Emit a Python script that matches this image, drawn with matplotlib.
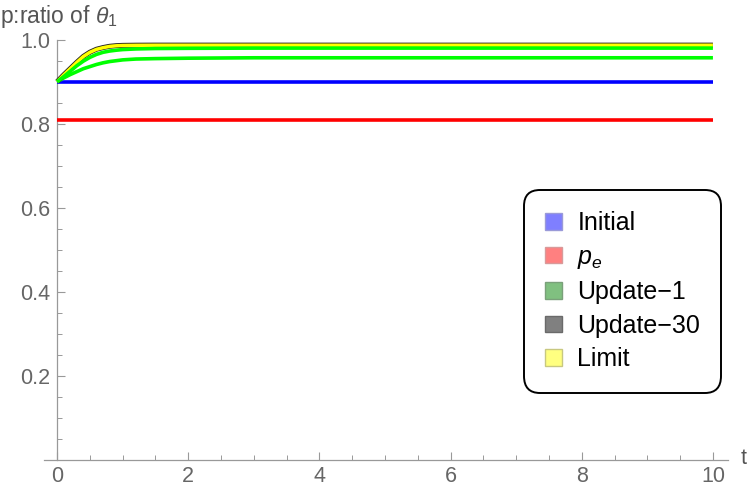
import matplotlib
matplotlib.use("Agg")
import matplotlib.pyplot as plt
from matplotlib.patches import Patch
from matplotlib.ticker import MultipleLocator

plt.rcParams['font.family'] = ['Liberation Sans', 'DejaVu Sans']
plt.rcParams['mathtext.fontset'] = 'custom'
plt.rcParams['mathtext.it'] = 'Liberation Sans:italic'
plt.rcParams['mathtext.rm'] = 'Liberation Sans'

# ---- data ----
t_curve = [0, 0.1, 0.2, 0.3, 0.4, 0.5, 0.6, 0.7, 0.8, 0.9, 1.0, 1.2, 1.5, 2, 3, 4, 6, 10]
p_limit = [0.900, 0.916, 0.931, 0.946, 0.960, 0.970, 0.977, 0.981, 0.984, 0.9855, 0.9862,
           0.9866, 0.9868, 0.9868, 0.9868, 0.9868, 0.9868, 0.9868]
p_update30 = [0.900, 0.9163, 0.9313, 0.9463, 0.9603, 0.9703, 0.9773, 0.9813, 0.9843, 0.9858,
              0.9865, 0.9869, 0.9871, 0.9871, 0.9871, 0.9871, 0.9871, 0.9871]
p_green_hi = [0.900, 0.912, 0.925, 0.938, 0.949, 0.958, 0.965, 0.970, 0.973, 0.975, 0.9765,
              0.978, 0.979, 0.9795, 0.980, 0.980, 0.980, 0.980]
p_green_lo = [0.900, 0.909, 0.917, 0.924, 0.931, 0.936, 0.941, 0.945, 0.948, 0.950, 0.952,
              0.954, 0.955, 0.956, 0.957, 0.957, 0.957, 0.957]
t_flat = [0, 10]
p_initial = [0.9, 0.9]
p_e = [0.81, 0.81]

legend_labels = ["Initial", "$p_e$", "Update\u22121", "Update\u221230", "Limit"]
legend_face = ["#7f7fff", "#ff8080", "#80c080", "#808080", "#ffff80"]
legend_edge = ["#9a9ad8", "#d89a9a", "#7aa07a", "#6a6a6a", "#c8c880"]

W, H = 750, 496
fig = plt.figure(figsize=(W / 100, H / 100), dpi=100)
ax = fig.add_axes([44 / W, 1 - 460 / H, (728 - 44) / W, (460 - 39.7) / H])

lw = 2.6
ax.plot(t_flat, p_initial, color="#0000ff", lw=lw, solid_capstyle='butt', zorder=3)
ax.plot(t_flat, p_e, color="#ff0000", lw=lw, solid_capstyle='butt', zorder=3)
ax.plot(t_curve, p_green_lo, color="#00ff00", lw=lw, solid_capstyle='butt', zorder=4)
ax.plot(t_curve, p_update30, color="#222222", lw=3.6, solid_capstyle='butt', zorder=5)
ax.plot(t_curve, p_limit, color="#ffff00", lw=2.5, solid_capstyle='butt', zorder=6)
ax.plot(t_curve, p_green_hi, color="#00ff00", lw=lw, solid_capstyle='butt', zorder=7)

ax.set_xlim(-0.2, 10.23)
ax.set_ylim(0, 1.0)

axcol = "#999999"
for s in ["top", "right"]:
    ax.spines[s].set_visible(False)
ax.spines["left"].set_position(("data", 0))
ax.spines["left"].set_color(axcol)
ax.spines["bottom"].set_color(axcol)
ax.spines["left"].set_linewidth(0.9)
ax.spines["bottom"].set_linewidth(0.9)

ax.xaxis.set_minor_locator(MultipleLocator(0.5))
ax.yaxis.set_minor_locator(MultipleLocator(0.05))
ax.set_xticks([0, 2, 4, 6, 8, 10])
ax.set_xticklabels(["0", "2", "4", "6", "8", "10"])
ax.set_yticks([0.2, 0.4, 0.6, 0.8, 1.0])
ax.set_yticklabels(["0.2", "0.4", "0.6", "0.8", "1.0"])
ax.tick_params(axis="both", which="major", direction="in", length=6, width=0.8,
               color=axcol, labelcolor="#666666", labelsize=15.5)
ax.tick_params(axis="both", which="minor", direction="in", length=3.5, width=0.7, color=axcol)
ax.tick_params(axis="x", which="major", pad=4)
ax.tick_params(axis="y", which="major", pad=5)

fig.text(741 / W, 1 - 459 / H, "t", fontsize=15.5, color="#555555", ha="left", va="center")
fig.text(0 / W, 1 - 16 / H, "p:ratio of $\\theta_1$", fontsize=16.5, color="#555555",
         ha="left", va="center")

handles = [Patch(facecolor=f, edgecolor=e, linewidth=1.0) for f, e in zip(legend_face, legend_edge)]
leg = fig.legend(handles, legend_labels, loc="upper left",
                 bbox_to_anchor=(524 / W, 1 - 190 / H), borderaxespad=0,
                 fontsize=18, frameon=True, fancybox=True,
                 handlelength=0.66, handleheight=0.66, handletextpad=0.62,
                 labelspacing=0.38, borderpad=0.85)
fr = leg.get_frame()
fr.set_edgecolor("black")
fr.set_linewidth(1.4)
fr.set_boxstyle("round", pad=0.0, rounding_size=0.65)
fr.set_alpha(1)

fig.savefig("out.png", dpi=100)
